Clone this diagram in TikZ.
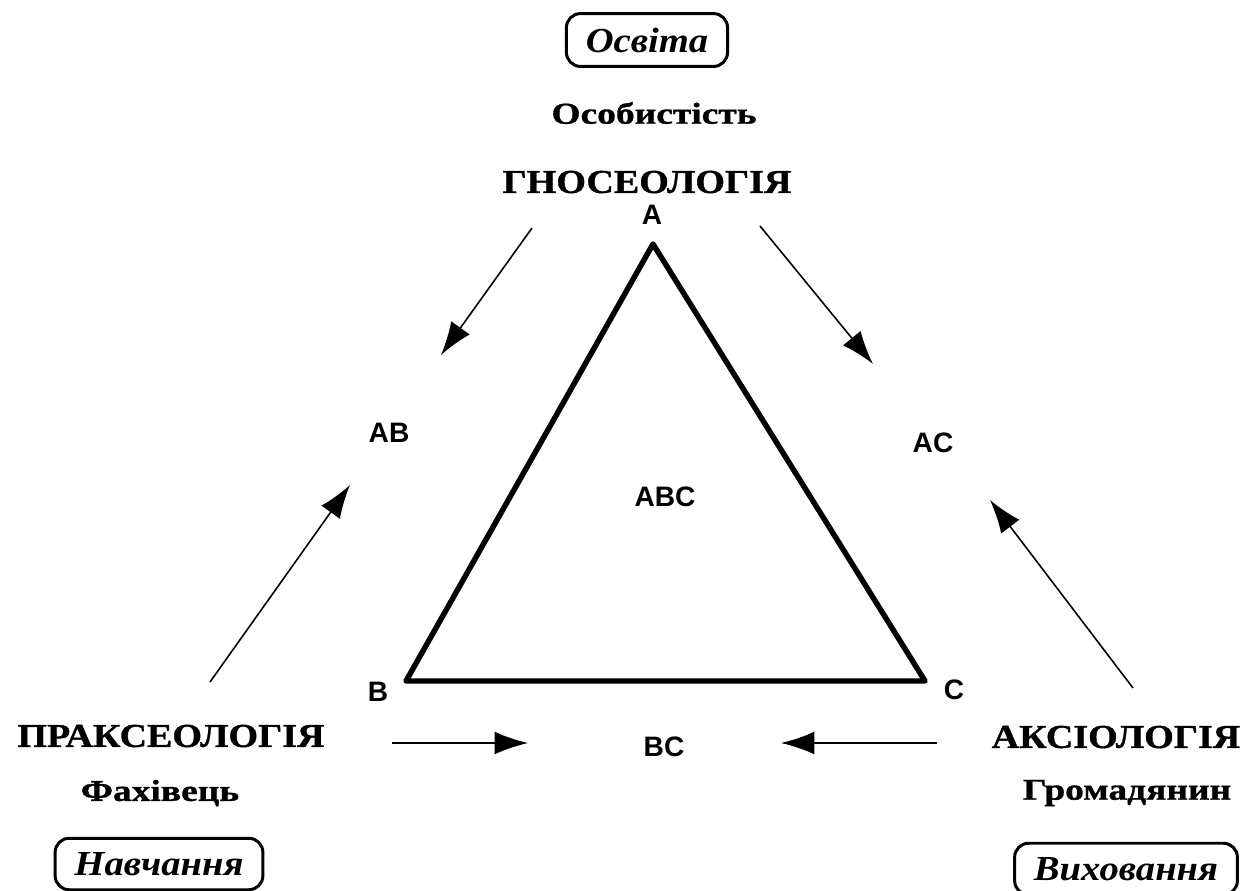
\documentclass[tikz,border=0pt]{standalone}
\usepackage{fontspec}
\setmainfont{Liberation Serif}
\newfontfamily\polefont[FakeStretch=1.14,FakeBold=1]{Liberation Serif}
\newfontfamily\rolefont[FakeStretch=1.24,FakeBold=1]{Liberation Serif}
\newfontfamily\procfont[FakeStretch=1.1]{Liberation Serif}
\newfontfamily\labelfont{Liberation Sans}
\usetikzlibrary{arrows.meta,positioning}

\tikzset{
  pole/.style={font=\polefont\fontsize{19}{22}\selectfont\bfseries, inner sep=1pt},
  role/.style={font=\rolefont\fontsize{17.2}{20}\selectfont\bfseries, inner sep=1pt},
  proc/.style={draw, line width=1.7pt, rounded corners=8pt, font=\procfont\fontsize{20}{24}\selectfont\bfseries\itshape, inner xsep=11pt, inner ysep=8pt},
  vert/.style={font=\labelfont\fontsize{16}{18}\selectfont\bfseries, inner sep=1pt},
  flow/.style={line width=0.9pt, -{Latex[length=19pt, width=13pt]}}
}

\begin{document}
\begin{tikzpicture}[x=0.02cm, y=-0.02cm]
    \useasboundingbox (0,0) rectangle (1260,890);
    % triangle
    \coordinate (A) at (653,244);
    \coordinate (B) at (406,681);
    \coordinate (C) at (925,681);
    \draw[line width=3.1pt, line join=round] (A) -- (B) -- (C) -- cycle;
    % vertices and sides
    \node[vert] (la) at (652,215) {A};
    \node[vert] (lb) at (378,692) {B};
    \node[vert] (lc) at (954,690) {C};
    \node[vert] (ab) at (389,433) {AB};
    \node[vert] (ac) at (933,443) {AC};
    \node[vert] (bc) at (664,747) {BC};
    \node[vert] (abc) at (665,497) {ABC};
    % top pole
    \node[proc] (osvita) at (647,40) {Освіта};
    \node[role] (osob) at (654,113) {Особистість};
    \node[pole] (gnos) at (647,182) {ГНОСЕОЛОГІЯ};
    % left pole
    \node[pole] (prax) at (171,736) {ПРАКСЕОЛОГІЯ};
    \node[role] (fah) at (160,793) {Фахівець};
    \node[proc] (navch) at (159,864) {Навчання};
    % right pole
    \node[pole] (aks) at (1116,737) {АКСІОЛОГІЯ};
    \node[role] (grom) at (1127,793) {Громадянин};
    \node[proc] (vyh) at (1126,869) {Виховання};
    % arrows
    \coordinate (g1) at (532,228);  \coordinate (g1e) at (441,355);
    \coordinate (g2) at (760,226);  \coordinate (g2e) at (873,364);
    \coordinate (p1) at (210,682);  \coordinate (p1e) at (350,485);
    \coordinate (p2) at (392,743);  \coordinate (p2e) at (528,743);
    \coordinate (a1) at (1133,688); \coordinate (a1e) at (990,500);
    \coordinate (a2) at (937,743);  \coordinate (a2e) at (781,743);
    \draw[flow] (g1) -- (g1e);
    \draw[flow] (g2) -- (g2e);
    \draw[flow] (p1) -- (p1e);
    \draw[flow] (p2) -- (p2e);
    \draw[flow] (a1) -- (a1e);
    \draw[flow] (a2) -- (a2e);
\end{tikzpicture}
\end{document}
